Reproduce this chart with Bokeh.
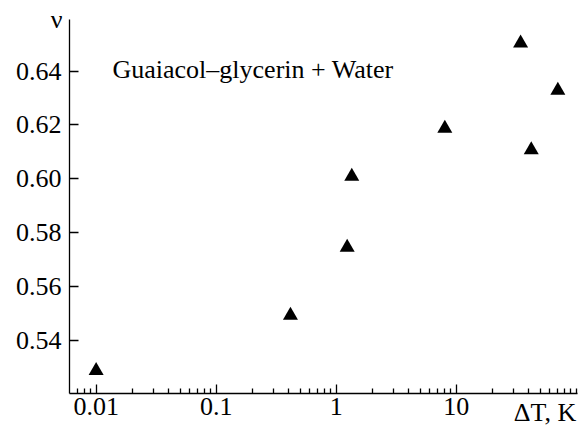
from bokeh.plotting import figure
from bokeh.models import (FixedTicker, CustomJSTickFormatter, PrintfTickFormatter,
                          Label, Range1d, ColumnDataSource)
from bokeh.embed import file_html
from bokeh.resources import INLINE

# Exponent nu versus superheating Delta T (Guaiacol-glycerin + Water)
delta_t = [0.01, 0.416, 1.235, 1.349, 8.04, 34.4, 70.3, 42.2]
nu = [0.5287, 0.5492, 0.5745, 0.6009, 0.6187, 0.6504, 0.6328, 0.6107]

x_major_ticks = [0.01, 0.1, 1, 10]
x_minor_ticks = [0.007, 0.008, 0.009,
                 0.02, 0.03, 0.04, 0.05, 0.06, 0.07, 0.08, 0.09,
                 0.2, 0.3, 0.4, 0.5, 0.6, 0.7, 0.8, 0.9,
                 2, 3, 4, 5, 6, 7, 8, 9,
                 20, 30, 40, 50, 60, 70, 80, 90, 100]
y_ticks = [0.54, 0.56, 0.58, 0.60, 0.62, 0.64]

FONT = "Liberation Serif"
FSIZE = "26px"
INK = "#000000"

p = figure(width=585, height=429, x_axis_type="log",
           x_range=Range1d(0.006, 102.5), y_range=Range1d(0.5202, 0.6592),
           output_backend="svg", toolbar_location=None,
           min_border_left=69, min_border_right=8,
           min_border_top=19, min_border_bottom=33)

p.outline_line_color = None
p.xgrid.visible = False
p.ygrid.visible = False
p.background_fill_color = "white"
p.border_fill_color = "white"

src = ColumnDataSource(dict(x=delta_t, y=nu))
p.scatter("x", "y", source=src, marker="triangle", size=15,
          fill_color=INK, line_color=None)

# x axis: log, ticks pointing inward, quantity written at the right end
# (the label is centred on the axis end, so non-breaking spaces push it left)
xa = p.xaxis[0]
xa.ticker = FixedTicker(ticks=x_major_ticks, minor_ticks=x_minor_ticks)
xa.formatter = CustomJSTickFormatter(code="return String(tick)")
xa.major_tick_in = 9
xa.major_tick_out = 0
xa.minor_tick_in = 5
xa.minor_tick_out = 0
xa.major_label_standoff = 4
xa.axis_label = "\u0394T, K" + "\u00a0" * 10
xa.axis_label_standoff_mode = "axis"
xa.axis_label_standoff = 4
xa.axis_label_align = "end"

# y axis, symbol written horizontally above the top of the axis
ya = p.yaxis[0]
ya.ticker = FixedTicker(ticks=y_ticks, minor_ticks=[])
ya.formatter = PrintfTickFormatter(format="%.2f")
ya.major_tick_in = 9
ya.major_tick_out = 0
ya.minor_tick_in = 0
ya.minor_tick_out = 0
ya.major_label_standoff = 8
ya.axis_label = "\u03bd"
ya.axis_label_orientation = "horizontal"
ya.axis_label_standoff_mode = "axis"
ya.axis_label_standoff = 7
ya.axis_label_align = "end"
ya.axis_label_text_baseline = "middle"

for ax in (xa, ya):
    ax.axis_line_color = INK
    ax.axis_line_width = 1.3
    ax.major_tick_line_color = INK
    ax.major_tick_line_width = 1.3
    ax.minor_tick_line_color = INK
    ax.minor_tick_line_width = 1.3
    ax.major_label_text_font = FONT
    ax.major_label_text_font_size = FSIZE
    ax.major_label_text_color = INK
    ax.axis_label_text_font = FONT
    ax.axis_label_text_font_size = FSIZE
    ax.axis_label_text_font_style = "normal"
    ax.axis_label_text_color = INK

# caption inside the frame
p.add_layout(Label(text="Guaiacol\u2013glycerin + Water", x=43, y=324,
                   x_units="screen", y_units="screen",
                   text_font=FONT, text_font_size=FSIZE, text_color=INK,
                   text_align="left", text_baseline="alphabetic"))

open("out.html", "w").write(file_html(p, INLINE))
